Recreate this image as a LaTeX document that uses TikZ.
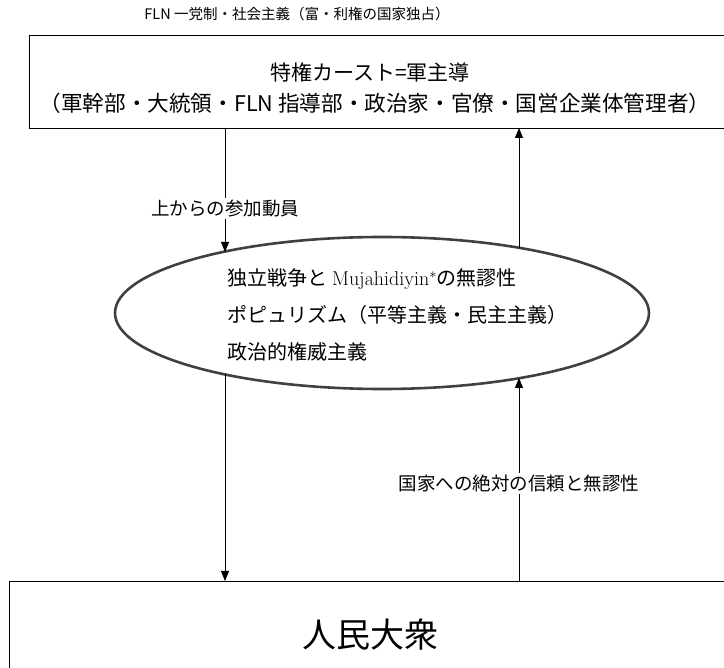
\documentclass[tikz,border=0pt]{standalone}
\usepackage{fontspec}
\newfontfamily\jp{Noto Sans CJK JP}
\usetikzlibrary{arrows.meta,shapes.geometric}
\tikzset{
  box/.style={draw, line width=0.8pt, anchor=north west, inner sep=0pt},
  lbl/.style={font=\jp\fontsize{18.5}{18.5}\selectfont, fill=white, inner sep=2pt},
  arr/.style={line width=0.8pt, -{Triangle[length=10pt,width=8pt]}},
}
\begin{document}
\begin{tikzpicture}[x=1pt,y=-1pt]
	\clip (0,0) rectangle (724,668);
	% upper layer
	\node[font=\jp\fontsize{14.5}{14.5}\selectfont] (regime) at (297,14) {FLN 一党制・社会主義（富・利権の国家独占）};
	\node[box, minimum width=720, minimum height=93] (caste) at (29,35) {};
	\node[font=\jp\fontsize{21}{21}\selectfont] (castename) at (370,72) {特権カースト=軍主導};
	\node[font=\jp\fontsize{21.6}{21.6}\selectfont] (castelist) at (375,103) {（軍幹部・大統領・FLN 指導部・政治家・官僚・国営企業体管理者）};
	% ideology
	\node[draw=black!75, line width=2.6pt, ellipse, minimum width=534, minimum height=152, inner sep=0pt] (ideo) at (382,313) {};
	\node[anchor=west, align=left, font=\jp\fontsize{20}{37}\selectfont] (ideotext) at (224,315) {独立戦争と {\normalfont Mujahidiyin}$^{*}$の無謬性\\ポピュリズム（平等主義・民主主義）\\政治的権威主義};
	% masses
	\node[box, minimum width=730, minimum height=100] (masses) at (9,581) {};
	\node[font=\jp\fontsize{34}{34}\selectfont] (massname) at (370,635) {人民大衆};
	% arrow ends
	\coordinate (castedn) at (225,128);
	\coordinate (casteup) at (519,128);
	\coordinate (ideotopl) at (225,252);
	\coordinate (ideotopr) at (519,248);
	\coordinate (ideobotl) at (225,374);
	\coordinate (ideobotr) at (519,378);
	\coordinate (massdn) at (225,581);
	\coordinate (massup) at (519,581);
	\draw[arr] (castedn) -- node[lbl, pos=0.65] (mobil) {上からの参加動員} (ideotopl);
	\draw[arr] (ideotopr) -- (casteup);
	\draw[arr] (ideobotl) -- (massdn);
	\draw[arr] (massup) -- node[lbl, pos=0.48] (trust) {国家への絶対の信頼と無謬性} (ideobotr);
\end{tikzpicture}
\end{document}
